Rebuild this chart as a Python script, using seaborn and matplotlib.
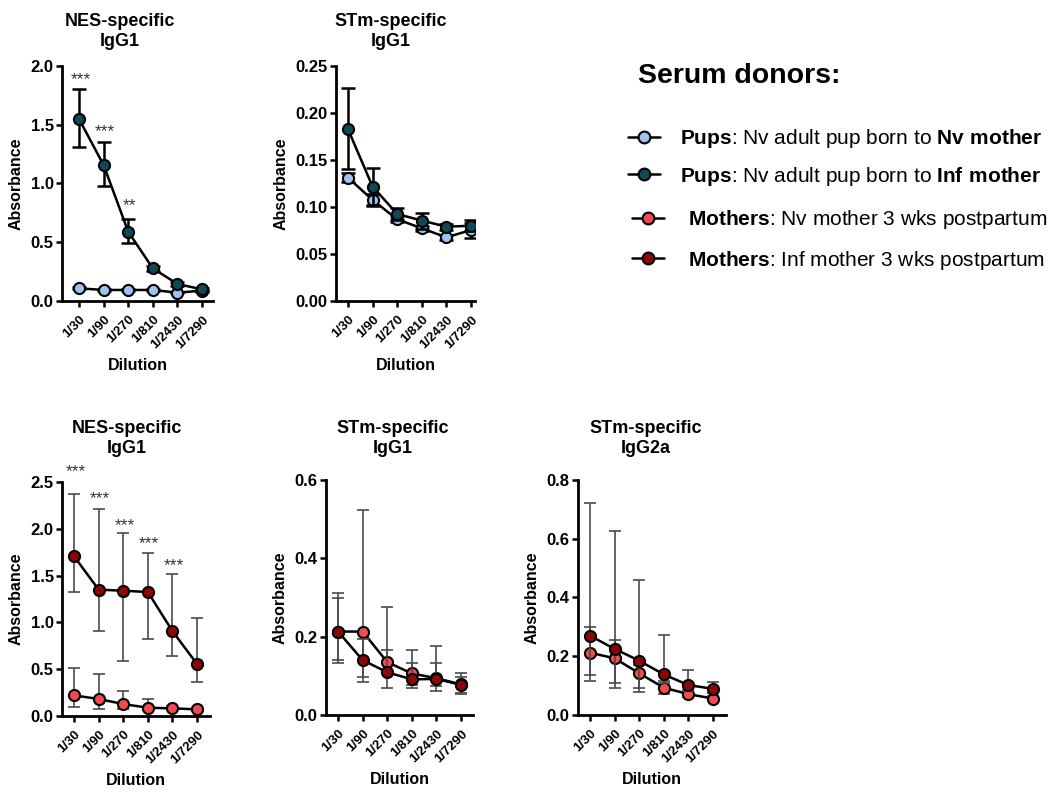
import numpy as np
import pandas as pd
import matplotlib
matplotlib.use("Agg")
import matplotlib.pyplot as plt
from matplotlib.lines import Line2D
from matplotlib.ticker import FormatStrFormatter
import seaborn as sns

sns.set_style("ticks")
plt.rcParams["font.family"] = ["Liberation Sans", "DejaVu Sans"]
plt.rcParams["mathtext.fontset"] = "custom"
plt.rcParams["mathtext.rm"] = "Liberation Sans"
plt.rcParams["mathtext.bf"] = "Liberation Sans:bold"
for key in ("text.color", "axes.labelcolor", "xtick.color", "ytick.color"):
    plt.rcParams[key] = "black"

# ---- data -------------------------------------------------------------
dilutions = ["1/30", "1/90", "1/270", "1/810", "1/2430", "1/7290"]

# NES-specific IgG1, pups
nes_nv_pup = [0.108, 0.094, 0.094, 0.094, 0.071, 0.088]
nes_nv_pup_lo = [0.098, 0.086, 0.086, 0.086, 0.064, 0.080]
nes_nv_pup_hi = [0.118, 0.102, 0.102, 0.102, 0.078, 0.096]
nes_inf_pup = [1.549, 1.157, 0.590, 0.278, 0.145, 0.099]
nes_inf_pup_lo = [1.313, 0.979, 0.496, 0.255, 0.128, 0.088]
nes_inf_pup_hi = [1.801, 1.356, 0.695, 0.301, 0.162, 0.110]

# STm-specific IgG1, pups
stm_nv_pup = [0.1312, 0.1074, 0.0869, 0.0773, 0.0677, 0.0755]
stm_nv_pup_lo = [0.1270, 0.1010, 0.0840, 0.0745, 0.0650, 0.0674]
stm_nv_pup_hi = [0.1360, 0.1140, 0.0900, 0.0800, 0.0705, 0.0830]
stm_inf_pup = [0.1826, 0.1216, 0.0926, 0.0855, 0.0791, 0.0800]
stm_inf_pup_lo = [0.1400, 0.1020, 0.0866, 0.0770, 0.0760, 0.0740]
stm_inf_pup_hi = [0.2262, 0.1410, 0.0986, 0.0940, 0.0822, 0.0860]

# NES-specific IgG1, mothers
nes_nv_mom = [0.221, 0.182, 0.128, 0.089, 0.082, 0.071]
nes_nv_mom_lo = [0.093, 0.078, 0.080, 0.060, 0.060, 0.050]
nes_nv_mom_hi = [0.509, 0.452, 0.264, 0.178, 0.110, 0.090]
nes_inf_mom = [1.706, 1.350, 1.339, 1.325, 0.908, 0.556]
nes_inf_mom_lo = [1.328, 0.912, 0.591, 0.826, 0.641, 0.367]
nes_inf_mom_hi = [2.372, 2.215, 1.951, 1.738, 1.513, 1.050]

# STm-specific IgG1, mothers
stm_nv_mom = [0.213, 0.213, 0.135, 0.106, 0.094, 0.078]
stm_nv_mom_lo = [0.140, 0.096, 0.115, 0.077, 0.075, 0.057]
stm_nv_mom_hi = [0.298, 0.524, 0.276, 0.165, 0.177, 0.108]
stm_inf_mom = [0.213, 0.140, 0.109, 0.091, 0.092, 0.077]
stm_inf_mom_lo = [0.132, 0.084, 0.070, 0.068, 0.062, 0.054]
stm_inf_mom_hi = [0.311, 0.195, 0.165, 0.132, 0.132, 0.096]

# STm-specific IgG2a, mothers
g2a_nv_mom = [0.212, 0.193, 0.142, 0.093, 0.071, 0.056]
g2a_nv_mom_lo = [0.136, 0.110, 0.091, 0.071, 0.062, 0.050]
g2a_nv_mom_hi = [0.301, 0.255, 0.170, 0.115, 0.085, 0.065]
g2a_inf_mom = [0.270, 0.225, 0.185, 0.138, 0.102, 0.089]
g2a_inf_mom_lo = [0.117, 0.093, 0.079, 0.110, 0.080, 0.075]
g2a_inf_mom_hi = [0.723, 0.626, 0.460, 0.273, 0.152, 0.112]

# significance marks
nes_pup_stars = ["***", "***", "**"]
nes_pup_star_y = [1.92, 1.48, 0.845]
nes_mom_stars = ["***", "***", "***", "***", "***"]
nes_mom_star_y = [2.66, 2.37, 2.08, 1.89, 1.65]

legend_labels = [
    r"$\mathbf{Pups}$: Nv adult pup born to $\mathbf{Nv\ mother}$",
    r"$\mathbf{Pups}$: Nv adult pup born to $\mathbf{Inf\ mother}$",
    r"$\mathbf{Mothers}$: Nv mother 3 wks postpartum",
    r"$\mathbf{Mothers}$: Inf mother 3 wks postpartum",
]

# ---- styling -----------------------------------------------------------
C_NV_PUP = "#9CC3F4"
C_INF_PUP = "#0C4A57"
C_NV_MOM = "#F24A4F"
C_INF_MOM = "#8E0606"

positions = np.arange(len(dilutions))

fig = plt.figure(figsize=(10.48, 7.94), dpi=100)


def draw_series(ax, y, lo, hi, color, err_color, err_lw, capsize, z):
    y = np.asarray(y)
    yerr = np.vstack([y - np.asarray(lo), np.asarray(hi) - y])
    ax.errorbar(positions, y, yerr=yerr, fmt="none", ecolor=err_color,
                elinewidth=err_lw, capsize=capsize, capthick=err_lw, zorder=z)
    df = pd.DataFrame({"pos": positions, "val": y})
    sns.lineplot(data=df, x="pos", y="val", ax=ax, sort=False, errorbar=None,
                 color="black", linewidth=1.8, marker="o", markersize=8,
                 markerfacecolor=color, markeredgecolor="black",
                 markeredgewidth=1.5, zorder=z + 1)


def style_axes(ax, title, title_x, title_pad, ymax, ystep, fmt, xlim):
    ax.set_xlim(*xlim)
    ax.set_ylim(0, ymax)
    ax.set_yticks(np.arange(0, ymax + ystep / 2, ystep))
    ax.yaxis.set_major_formatter(FormatStrFormatter(fmt))
    ax.set_xticks(positions)
    ax.set_xticklabels(dilutions, rotation=45, ha="right",
                       rotation_mode="anchor", fontsize=9.5, fontweight="bold")
    for lab in ax.get_yticklabels():
        lab.set_fontweight("bold")
        lab.set_fontsize(12)
    ax.tick_params(axis="both", length=4, width=1.8, color="black")
    ax.tick_params(axis="x", pad=5)
    ax.tick_params(axis="y", pad=2)
    for side in ("left", "bottom"):
        ax.spines[side].set_linewidth(2)
        ax.spines[side].set_color("black")
    sns.despine(ax=ax)
    ax.set_xlabel("Dilution", fontsize=11.5, fontweight="bold", labelpad=5)
    ax.set_ylabel("Absorbance", fontsize=11.5, fontweight="bold", labelpad=5)
    ax.set_title(title, x=title_x, pad=title_pad, fontsize=13,
                 fontweight="bold", linespacing=1.2)


def add_stars(ax, labels, ys):
    for i, (lab, yv) in enumerate(zip(labels, ys)):
        ax.annotate(lab, (positions[i], yv), xytext=(1, -3),
                    textcoords="offset points", ha="center", va="center",
                    fontsize=12.5, color="#333333", annotation_clip=False)


TOP_ERR = dict(err_color="black", err_lw=1.8, capsize=4.8)
BOT_ERR = dict(err_color="#4a4a4a", err_lw=1.2, capsize=4.2)

# NES-specific IgG1, pups
ax1 = fig.add_axes([0.0592, 0.6209, 0.1441, 0.2960])
draw_series(ax1, nes_nv_pup, nes_nv_pup_lo, nes_nv_pup_hi, C_NV_PUP, z=2, **TOP_ERR)
draw_series(ax1, nes_inf_pup, nes_inf_pup_lo, nes_inf_pup_hi, C_INF_PUP, z=4, **TOP_ERR)
style_axes(ax1, "NES-specific\nIgG1", 0.385, 14.5, 2.0, 0.5, "%.1f", (-0.69, 5.45))
add_stars(ax1, nes_pup_stars, nes_pup_star_y)

# STm-specific IgG1, pups
ax2 = fig.add_axes([0.3206, 0.6209, 0.1326, 0.2960])
draw_series(ax2, stm_nv_pup, stm_nv_pup_lo, stm_nv_pup_hi, C_NV_PUP, z=2, **TOP_ERR)
draw_series(ax2, stm_inf_pup, stm_inf_pup_lo, stm_inf_pup_hi, C_INF_PUP, z=4, **TOP_ERR)
style_axes(ax2, "STm-specific\nIgG1", 0.395, 14.5, 0.25, 0.05, "%.2f", (-0.49, 5.16))

# NES-specific IgG1, mothers
ax3 = fig.add_axes([0.0592, 0.0982, 0.1412, 0.2947])
draw_series(ax3, nes_nv_mom, nes_nv_mom_lo, nes_nv_mom_hi, C_NV_MOM, z=2, **BOT_ERR)
draw_series(ax3, nes_inf_mom, nes_inf_mom_lo, nes_inf_mom_hi, C_INF_MOM, z=4, **BOT_ERR)
style_axes(ax3, "NES-specific\nIgG1", 0.44, 21, 2.5, 0.5, "%.1f", (-0.49, 5.53))
add_stars(ax3, nes_mom_stars, nes_mom_star_y)

# STm-specific IgG1, mothers
ax4 = fig.add_axes([0.3111, 0.0995, 0.1403, 0.2960])
draw_series(ax4, stm_nv_mom, stm_nv_mom_lo, stm_nv_mom_hi, C_NV_MOM, z=2, **BOT_ERR)
draw_series(ax4, stm_inf_mom, stm_inf_mom_lo, stm_inf_mom_hi, C_INF_MOM, z=4, **BOT_ERR)
style_axes(ax4, "STm-specific\nIgG1", 0.455, 19.5, 0.6, 0.2, "%.1f", (-0.49, 5.49))

# STm-specific IgG2a, mothers
ax5 = fig.add_axes([0.5515, 0.0995, 0.1412, 0.2960])
draw_series(ax5, g2a_nv_mom, g2a_nv_mom_lo, g2a_nv_mom_hi, C_NV_MOM, z=2, **BOT_ERR)
draw_series(ax5, g2a_inf_mom, g2a_inf_mom_lo, g2a_inf_mom_hi, C_INF_MOM, z=4, **BOT_ERR)
style_axes(ax5, "STm-specific\nIgG2a", 0.46, 19.5, 0.8, 0.2, "%.1f", (-0.49, 5.53))

# ---- legend ------------------------------------------------------------
fig.text(638 / 1048, 1 - 76 / 794, "Serum donors:", fontsize=20.5,
         fontweight="bold", ha="left", va="center")


def handle(color):
    return Line2D([], [], color="black", linewidth=1.8, marker="o",
                  markersize=8.5, markerfacecolor=color,
                  markeredgecolor="black", markeredgewidth=1.5)


leg_pups = fig.legend([handle(C_NV_PUP), handle(C_INF_PUP)], legend_labels[:2],
                      loc="upper left", bbox_to_anchor=(628 / 1048, 1 - 127 / 794),
                      frameon=False, fontsize=15, handlelength=1.55,
                      handletextpad=0.95, labelspacing=0.70, borderpad=0,
                      borderaxespad=0)
leg_moms = fig.legend([handle(C_NV_MOM), handle(C_INF_MOM)], legend_labels[2:],
                      loc="upper left", bbox_to_anchor=(632 / 1048, 1 - 208 / 794),
                      frameon=False, fontsize=15, handlelength=1.55,
                      handletextpad=1.15, labelspacing=0.84, borderpad=0,
                      borderaxespad=0)

fig.savefig("out.png", dpi=100)
